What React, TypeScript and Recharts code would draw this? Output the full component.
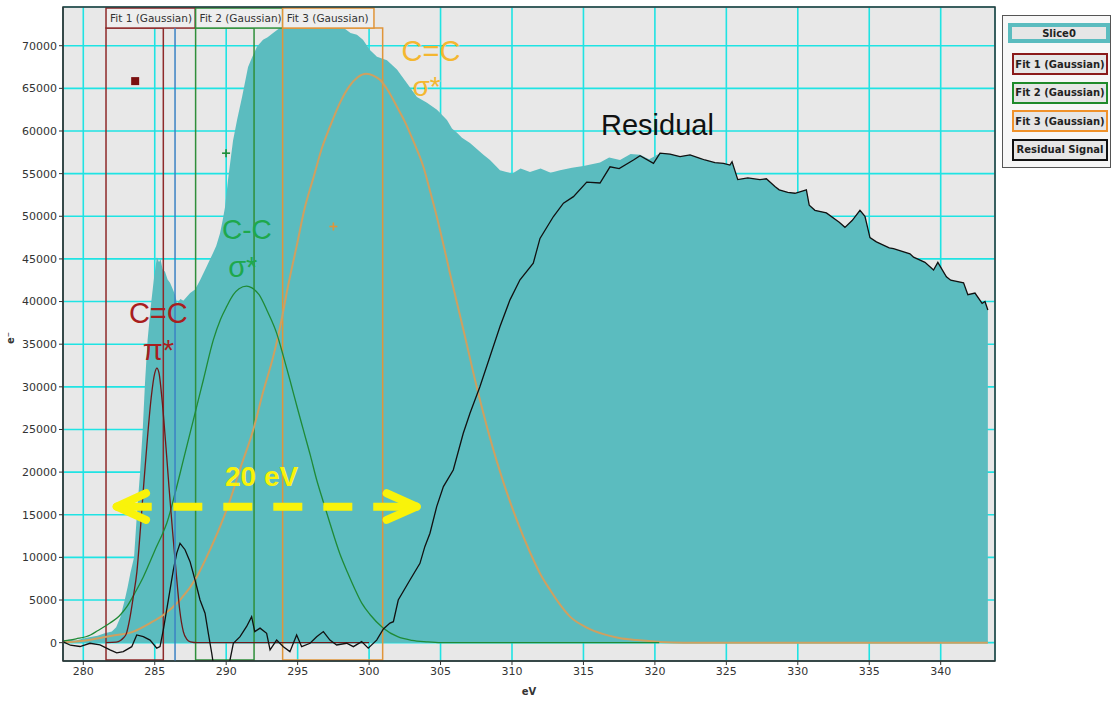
import React from 'react';
import {
  Area,
  CartesianGrid,
  ComposedChart,
  Line,
  ReferenceArea,
  ReferenceDot,
  ReferenceLine,
  XAxis,
  YAxis,
} from 'recharts';

// C K-edge spectrum (Slice0), rows are [eV, counts]
const slice0Rows = [
  [278.6, 200], [279.0, 350], [279.5, 250], [280.0, 500], [280.5, 650], [281.0, 800], [281.5, 1100],
  [282.0, 1300], [282.3, 1800], [282.6, 3000], [282.9, 5000], [283.1, 6500], [283.3, 8200], [283.55, 10000],
  [283.75, 15000], [283.97, 19900], [284.16, 25000], [284.32, 30500], [284.5, 35500], [284.72, 39400],
  [284.95, 42800], [285.15, 45200], [285.3, 44600], [285.4, 45000], [285.55, 43800], [285.72, 43500],
  [285.9, 42600], [286.07, 42200], [286.25, 41500], [286.42, 40800], [286.56, 39800], [286.8, 40300],
  [287.0, 40100], [287.26, 40600], [287.48, 41000], [287.82, 41400], [288.17, 42500], [288.6, 44000],
  [289.08, 45700], [289.3, 46500], [289.57, 48000], [289.75, 49500], [289.92, 51100], [290.13, 54300],
  [290.48, 58900], [290.76, 61300], [291.11, 64000], [291.53, 67500], [291.8, 68600], [292.16, 69900],
  [292.58, 70700], [292.9, 71000], [293.28, 71500], [293.77, 72100], [294.2, 72600], [294.7, 72300],
  [295.2, 72800], [295.7, 72500], [296.2, 72700], [296.7, 72300], [297.2, 72500], [297.7, 72200],
  [298.3, 72000], [298.7, 71500], [299.15, 71300], [299.57, 70700], [300.06, 69500], [300.55, 68700],
  [301.25, 68300], [301.95, 67200], [302.65, 65600], [303.35, 64000], [304.05, 63300], [304.75, 62500],
  [305.45, 61300], [305.8, 60300], [306.15, 59800], [306.5, 59200], [307.06, 58600], [307.4, 58100],
  [308.0, 57200], [308.46, 56600], [309.16, 55400], [310.0, 55000], [310.6, 55600], [311.26, 55200],
  [312.0, 55600], [312.7, 55100], [313.36, 55400], [314.2, 55700], [315.0, 55900], [316.16, 56300],
  [316.8, 56900], [317.56, 56600], [318.3, 57300], [318.96, 57200], [319.6, 56700], [320.36, 57400],
  [321.06, 57300], [321.76, 57000], [322.46, 57200], [323.16, 56800], [323.5, 56600], [324.2, 56300],
  [324.8, 56200], [325.25, 56000], [325.4, 56400], [325.8, 54300], [326.5, 54500], [327.35, 54300],
  [327.8, 54400], [328.4, 53500], [328.7, 53100], [329.3, 52800], [329.8, 52700], [330.6, 53100],
  [330.8, 51300], [331.2, 50700], [332.0, 50400], [332.9, 49300], [333.3, 48700], [333.8, 49500],
  [334.35, 50700], [334.7, 50000], [335.05, 47500], [335.5, 47000], [336.4, 46300], [336.7, 46200],
  [337.85, 45600], [338.1, 45200], [338.9, 44600], [339.5, 43700], [339.8, 44600], [340.4, 42900],
  [340.7, 42500], [341.6, 42200], [341.9, 40800], [342.4, 41000], [342.9, 39800], [343.1, 40000],
  [343.3, 39000],
];

// C=C pi* peak
const fit1Rows = [
  [281.6, 0], [282.3, 60], [282.6, 250], [282.8, 550], [283.0, 1000], [283.25, 2800], [283.5, 5400],
  [283.75, 8300], [284.0, 13400], [284.25, 19000], [284.5, 24200], [284.75, 28700], [285.0, 31600],
  [285.15, 32200], [285.3, 31600], [285.5, 28700], [285.75, 23700], [286.0, 18200], [286.25, 13000],
  [286.5, 8200], [286.75, 3800], [287.0, 1300], [287.25, 400], [287.5, 100], [288.0, 0], [300.0, 0],
];

// C-C sigma* peak
const fit2Rows = [
  [278.6, 200], [279.5, 450], [280.5, 900], [281.0, 1400], [281.87, 2300], [282.5, 3100], [283.04, 4200],
  [283.6, 5800], [284.2, 7700], [284.7, 9600], [285.14, 11300], [285.5, 12600], [285.84, 14000],
  [286.42, 17500], [287.0, 21400], [287.7, 26100], [288.4, 30800], [289.1, 35500], [289.6, 37900],
  [290.03, 39400], [290.5, 40800], [290.9, 41500], [291.43, 41800], [291.8, 41600], [292.3, 40800],
  [292.9, 38800], [293.53, 36300], [294.0, 33600], [294.46, 30800], [295.0, 27400], [295.4, 24950],
  [295.9, 21900], [296.33, 19100], [296.8, 16500], [297.26, 14000], [297.96, 10400], [298.5, 8200],
  [299.0, 6300], [299.5, 4600], [300.06, 3300], [301.0, 1700], [302.0, 700], [303.0, 280], [304.0, 100],
  [305.0, 0], [320.3, 0],
];

// C=C sigma* peak
const fit3Rows = [
  [278.6, 50], [279.5, 150], [280.5, 350], [281.17, 550], [282.0, 800], [283.5, 1300], [284.67, 2300],
  [285.6, 3250], [286.77, 5000], [287.94, 7700], [288.87, 10900], [289.57, 13600], [290.27, 16700],
  [291.0, 20500], [291.9, 25000], [292.6, 29500], [293.3, 33600], [293.77, 37000], [294.35, 42000],
  [294.93, 46500], [295.5, 51000], [296.1, 54500], [296.7, 58000], [297.26, 60500], [297.96, 63300],
  [298.6, 65200], [299.2, 66300], [299.8, 66700], [300.3, 66500], [300.76, 66000], [301.3, 64800],
  [301.93, 62900], [302.5, 61100], [303.1, 58800], [303.8, 55800], [304.26, 53000], [304.73, 50000],
  [305.2, 46700], [305.66, 43300], [306.6, 36700], [307.53, 30000], [308.46, 24000], [309.4, 18800],
  [310.33, 14400], [311.26, 10600], [312.0, 8000], [312.66, 6200], [313.3, 4600], [314.06, 3050],
  [315.2, 1800], [316.4, 1000], [317.5, 550], [318.73, 300], [320.36, 80], [322.0, 0], [343.3, 0],
];

const residualHeadRows = [
  [278.6, 100], [279.1, -300], [279.77, -450], [280.47, -70], [281.17, -270], [281.87, -850],
  [282.34, -1200], [282.8, -1050], [283.39, -470], [283.74, 900], [284.2, 700], [284.67, 300],
  [285.14, -650], [285.37, -470], [285.6, 1500], [285.95, 5000], [286.3, 8500], [286.54, 10500],
  [286.77, 11650], [287.12, 10900], [287.47, 9500], [287.82, 7350], [288.17, 5000], [288.52, 3450],
  [288.75, 1100], [288.99, -1250], [289.1, -2500], [289.5, -3500], [289.9, -3500], [290.27, -2000],
  [290.5, -70], [290.97, 700], [291.43, 1900], [291.78, 3050], [292.0, 1300], [292.37, 1700],
  [292.83, 1100], [293.07, -850], [293.53, 300], [294.0, -470], [294.46, -1050], [294.93, 900],
  [295.28, -470], [295.87, -70], [296.33, 700], [296.8, 1300], [297.26, 300], [297.73, -270],
  [298.43, -70], [298.9, -470], [299.48, 120], [299.94, -650], [300.53, 300], [301.0, 1600],
  [301.46, 2300], [301.7, 2460], [302.04, 5000], [302.86, 7350], [303.56, 9300], [303.9, 11260],
  [304.26, 12830], [304.73, 15950], [305.2, 18300], [305.89, 20250], [306.59, 24560], [307.06, 26900],
  [307.76, 30030], [308.46, 33550], [309.16, 37070], [309.86, 40200], [310.56, 42550], [311.49, 44500],
  [311.96, 47400], [312.9, 49970], [313.6, 51540], [314.3, 52300], [315.23, 54000], [316.16, 53900],
  [316.86, 55800], [317.5, 55600], [318.5, 56600], [318.96, 57100], [319.9, 56200],
];
// past ~320 eV all fits are zero, so the residual runs along the spectrum itself
const residualRows = [...residualHeadRows, ...slice0Rows.filter(([ev]) => ev >= 320.3)];

const evTicks = [280, 285, 290, 295, 300, 305, 310, 315, 320, 325, 330, 335, 340];
const countTicks = [
  0, 5000, 10000, 15000, 20000, 25000, 30000, 35000, 40000, 45000, 50000, 55000, 60000, 65000, 70000,
];

const fitNames = ['Fit 1 (Gaussian)', 'Fit 2 (Gaussian)', 'Fit 3 (Gaussian)'];
// fit windows in eV: [from, to, end of the name tab]
const fitWindows = [
  [281.59, 285.6, 287.83],
  [287.86, 291.95, 293.95],
  [293.95, 300.95, 300.34],
];
// starting guesses drawn on the plot: [eV, counts]
const guessPoints = [
  [283.63, 65850],
  [289.99, 57400],
  [297.5, 48800],
];
const cursorEv = 286.42;

const legendNames = ['Slice0', 'Fit 1 (Gaussian)', 'Fit 2 (Gaussian)', 'Fit 3 (Gaussian)', 'Residual Signal'];

const X_DOMAIN: [number, number] = [278.58, 343.8];
const Y_DOMAIN: [number, number] = [-2150, 74540];
const WINDOW_TOP = 72070;
const WINDOW_BOTTOM = -2030;
const TAB_TOP = 74420;

const TEAL = '#5bbcbf';
const FIT_LINE = ['#6e1a1a', '#1f8a36', '#cfa060'];
const FIT_FRAME = ['#8e2a2a', '#2f8f3a', '#e0953a'];
const LEGEND_COLORS = [TEAL, '#8b1a1a', '#1f8a2a', '#f0922b', '#111111'];
const YELLOW = '#f9f30a';
const ARROW_Y = 15950;

const toPoints = (rows: number[][]) => rows.map(([ev, counts]) => ({ ev, counts }));
const slice0 = toPoints(slice0Rows);
const fits = [fit1Rows, fit2Rows, fit3Rows].map(toPoints);
const residual = toPoints(residualRows);

const tickStyle = { fontSize: 11, fill: '#333', fontFamily: 'DejaVu Sans' };
const noteFont = 'Liberation Sans, Arial, sans-serif';

const nameTab = (name: string, color: string) => (p: any) => (
  <g>
    <rect x={p.x} y={p.y} width={p.width} height={p.height} fill="#eeeeee" stroke={color} strokeWidth={1.5} />
    <text x={p.x + 4} y={p.y + p.height / 2} dominantBaseline="central" fontSize={10.5} fill="#333" fontFamily="DejaVu Sans">
      {name}
    </text>
  </g>
);

const note = (text: string, color: string, size: number, weight: string | number = 'normal') => (p: any) => (
  <text
    x={p.cx}
    y={p.cy}
    textAnchor="middle"
    dominantBaseline="central"
    fill={color}
    fontSize={size}
    fontWeight={weight}
    fontFamily={noteFont}
  >
    {text}
  </text>
);

const plus = (color: string) => (p: any) => (
  <g stroke={color} strokeWidth={1.6}>
    <line x1={p.cx - 4} y1={p.cy} x2={p.cx + 4} y2={p.cy} />
    <line x1={p.cx} y1={p.cy - 4} x2={p.cx} y2={p.cy + 4} />
  </g>
);

const square = (p: any) => <rect x={p.cx - 4} y={p.cy - 4} width={8} height={8} fill="#7a1010" />;

const seg = (x1: number, y1: number, x2: number, y2: number) => [
  { x: x1, y: y1 },
  { x: x2, y: y2 },
];

const Legend = () => (
  <div
    style={{
      position: 'absolute',
      left: 1002,
      top: 15,
      width: 109,
      height: 153,
      boxSizing: 'border-box',
      border: '1px solid #555',
      background: '#f7f7f7',
    }}
  >
    {legendNames.map((name, i) => (
      <div
        key={name}
        style={{
          position: 'absolute',
          left: i === 0 ? 5 : 9,
          top: i === 0 ? 7 : 37 + (i - 1) * 28.5,
          width: i === 0 ? 102 : 96,
          height: i === 0 ? 20 : 22,
          boxSizing: 'border-box',
          border: `${i === 0 ? 4 : 2.5}px solid ${LEGEND_COLORS[i]}`,
          background: '#e6e6e6',
          font: 'bold 10px "DejaVu Sans"',
          color: '#222',
          display: 'flex',
          alignItems: 'center',
          justifyContent: 'center',
          whiteSpace: 'nowrap',
        }}
      >
        {name}
      </div>
    ))}
  </div>
);

export default function App() {
  return (
    <div style={{ position: 'absolute', left: 0, top: 0, width: 1113, height: 702, background: '#fff' }}>
      <ComposedChart width={1113} height={702} margin={{ top: 7, right: 118, bottom: 0, left: 0 }}>
        <CartesianGrid fill="#e8e8e8" stroke="#1fe3e3" strokeWidth={1.6} />
        <XAxis
          type="number"
          dataKey="ev"
          domain={X_DOMAIN}
          ticks={evTicks}
          allowDataOverflow
          height={41}
          tickSize={4}
          tick={tickStyle}
          stroke="#333"
          label={{ value: 'eV', position: 'insideBottom', offset: 7, fontSize: 10, fontWeight: 'bold', fill: '#333', fontFamily: 'DejaVu Sans' }}
        />
        <YAxis
          type="number"
          domain={Y_DOMAIN}
          ticks={countTicks}
          allowDataOverflow
          width={63}
          tickSize={4}
          tick={tickStyle}
          stroke="#333"
          label={{ value: 'e⁻', angle: -90, position: 'insideLeft', offset: 10, dy: 10, fontSize: 10, fontWeight: 'bold', fill: '#333', fontFamily: 'DejaVu Sans' }}
        />

        <Area
          data={slice0}
          dataKey="counts"
          type="linear"
          stroke="none"
          fill={TEAL}
          fillOpacity={1}
          baseValue={0}
          isAnimationActive={false}
        />
        <Line data={fits[2]} dataKey="counts" type="monotone" stroke={FIT_LINE[2]} strokeWidth={2} dot={false} activeDot={false} isAnimationActive={false} />
        <Line data={fits[1]} dataKey="counts" type="monotone" stroke={FIT_LINE[1]} strokeWidth={1.3} dot={false} activeDot={false} isAnimationActive={false} />
        <Line data={fits[0]} dataKey="counts" type="monotone" stroke={FIT_LINE[0]} strokeWidth={1.3} dot={false} activeDot={false} isAnimationActive={false} />
        <Line data={residual} dataKey="counts" type="linear" stroke="#111" strokeWidth={1.3} dot={false} activeDot={false} isAnimationActive={false} />

        {/* fit windows with their name tabs */}
        {fitWindows.map(([from, to, tabEnd], i) => [
          <ReferenceArea
            key={`win${i}`}
            x1={from}
            x2={to}
            y1={WINDOW_BOTTOM}
            y2={WINDOW_TOP}
            fill="none"
            stroke={FIT_FRAME[i]}
            strokeWidth={1.5}
            fillOpacity={0}
          />,
          <ReferenceArea
            key={`tab${i}`}
            x1={from}
            x2={tabEnd}
            y1={WINDOW_TOP}
            y2={TAB_TOP}
            shape={nameTab(fitNames[i], FIT_FRAME[i])}
          />,
        ])}
        <ReferenceLine segment={seg(cursorEv, WINDOW_TOP, cursorEv, Y_DOMAIN[0])} stroke="#3b82c4" strokeWidth={1.5} />

        <ReferenceDot x={guessPoints[0][0]} y={guessPoints[0][1]} r={4} shape={square} />
        <ReferenceDot x={guessPoints[1][0]} y={guessPoints[1][1]} r={4} shape={plus('#1f8a36')} />
        <ReferenceDot x={guessPoints[2][0]} y={guessPoints[2][1]} r={4} shape={plus('#e0953a')} />

        {/* peak labels */}
        <ReferenceDot x={285.25} y={38670} r={0} shape={note('C=C', '#a81e1e', 29)} />
        <ReferenceDot x={285.25} y={34330} r={0} shape={note('π*', '#a81e1e', 29)} />
        <ReferenceDot x={291.45} y={48410} r={0} shape={note('C-C', '#1ea84c', 28)} />
        <ReferenceDot x={291.16} y={44070} r={0} shape={note('σ*', '#1ea84c', 29)} />
        <ReferenceDot x={304.33} y={69350} r={0} shape={note('C=C', '#f4b730', 29)} />
        <ReferenceDot x={304.02} y={65240} r={0} shape={note('σ*', '#f4b730', 28)} />
        <ReferenceDot x={320.18} y={60750} r={0} shape={note('Residual', '#111', 29)} />
        <ReferenceDot x={292.48} y={19500} r={0} shape={note('20 eV', YELLOW, 28, 'bold')} />

        {/* 20 eV double arrow */}
        <ReferenceLine segment={seg(282.34, ARROW_Y, 284.79, ARROW_Y)} stroke={YELLOW} strokeWidth={8} />
        <ReferenceLine segment={seg(282.34, ARROW_Y, 284.39, 17520)} stroke={YELLOW} strokeWidth={8} strokeLinecap="round" />
        <ReferenceLine segment={seg(282.34, ARROW_Y, 284.39, 14390)} stroke={YELLOW} strokeWidth={8} strokeLinecap="round" />
        <ReferenceLine segment={seg(286.3, ARROW_Y, 298.9, ARROW_Y)} stroke={YELLOW} strokeWidth={8} strokeDasharray="29 21" />
        <ReferenceLine segment={seg(300.29, ARROW_Y, 303.33, ARROW_Y)} stroke={YELLOW} strokeWidth={8} />
        <ReferenceLine segment={seg(303.33, ARROW_Y, 301.23, 17520)} stroke={YELLOW} strokeWidth={8} strokeLinecap="round" />
        <ReferenceLine segment={seg(303.33, ARROW_Y, 301.23, 14390)} stroke={YELLOW} strokeWidth={8} strokeLinecap="round" />

        {/* plot frame */}
        <ReferenceArea x1={X_DOMAIN[0]} x2={X_DOMAIN[1]} y1={Y_DOMAIN[0]} y2={Y_DOMAIN[1]} fill="none" fillOpacity={0} stroke="#333" strokeWidth={1.5} />
      </ComposedChart>
      <Legend />
    </div>
  );
}
